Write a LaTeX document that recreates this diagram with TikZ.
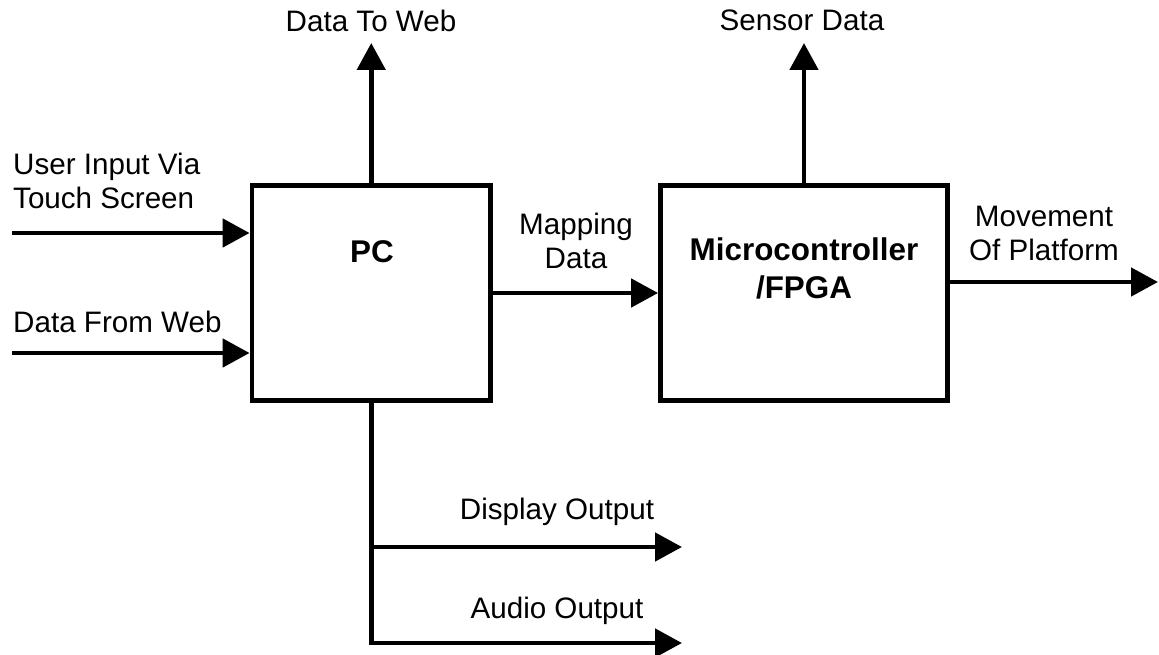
\documentclass[tikz,border=0pt]{standalone}
\usepackage{fontspec}
\setmainfont{Liberation Sans}
\usetikzlibrary{arrows.meta}
\begin{document}
\begin{tikzpicture}[x=1pt,y=1pt]
    \tikzstyle{every node}+=[inner sep=0pt]
    \tikzstyle{block}=[draw=black, line width=4.8pt, minimum height=215.5pt]
    \tikzstyle{flow}=[black, line width=4.8pt, -{Triangle[length=27pt,width=28pt]}]
    \tikzstyle{txt}=[font=\fontsize{29.6}{34}\selectfont]
    \tikzstyle{head}=[font=\fontsize{31.4}{38}\selectfont\bfseries, align=center]
    \useasboundingbox (0,0) rectangle (1159,-655);
    \node [block, minimum width=238.5pt] (pc) at (371.25,-293) {};
    \node [block, minimum width=287pt] (mcu) at (804,-293) {};
    \node [head, anchor=base] (pctxt) at (372,-262) {PC};
    \node [head, anchor=base] (mcutxt) at (804,-298) {Microcontroller\\/FPGA};
    \coordinate (touch) at (12,-233);
    \coordinate (webin) at (12,-353);
    \coordinate (webout) at (371.25,-43);
    \coordinate (sensor) at (804,-43);
    \coordinate (platform) at (1158,-282);
    \coordinate (branch) at (371.25,-547);
    \coordinate (corner) at (371.25,-643);
    \coordinate (display) at (682,-547);
    \coordinate (audio) at (682,-643);
    \draw [flow] (touch) -- (touch -| pc.west);
    \draw [flow] (webin) -- (webin -| pc.west);
    \draw [flow] (pc.north) -- (webout);
    \draw [flow] (mcu.north) -- (sensor);
    \draw [flow] (pc.east) -- (mcu.west);
    \draw [flow] (platform -| mcu.east) -- (platform);
    \draw [flow] (pc.south) -- (corner) -- (audio);
    \draw [flow] (branch) -- (display);
    \node [txt, anchor=base] (webouttxt) at (371,-32) {Data To Web};
    \node [txt, anchor=base] (sensortxt) at (802,-31) {Sensor Data};
    \node [txt, align=left, anchor=base west] (touchtxt) at (13,-208) {User Input Via\\Touch Screen};
    \node [txt, anchor=base west] (webintxt) at (13,-332) {Data From Web};
    \node [txt, align=center, anchor=base] (maptxt) at (576,-268) {Mapping\\Data};
    \node [txt, align=center, anchor=base] (platformtxt) at (1044,-260) {Movement\\Of Platform};
    \node [txt, anchor=base] (displaytxt) at (557,-519) {Display Output};
    \node [txt, anchor=base] (audiotxt) at (557,-618) {Audio Output};
\end{tikzpicture}
\end{document}
